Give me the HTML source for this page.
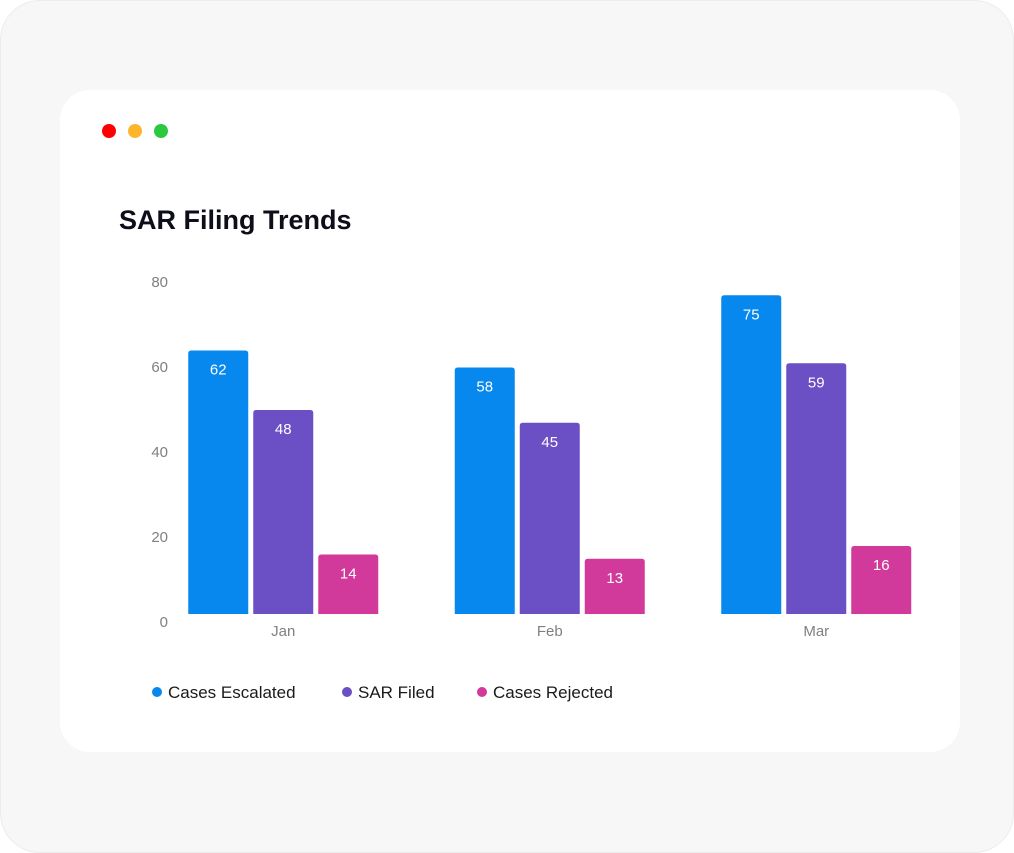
<!DOCTYPE html>
<html><head><meta charset="utf-8">
<style>
html,body{margin:0;padding:0;width:1014px;height:853px;background:#fff;overflow:hidden;font-family:"Liberation Sans",sans-serif;}
#outer{position:absolute;left:0;top:0;width:1012px;height:851px;background:#f7f7f7;border:1px solid #ececec;border-radius:40px;}
#card{position:absolute;left:60px;top:90px;width:900px;height:662px;background:#fff;border-radius:30px;}
</style></head><body>
<div id="outer"></div>
<div id="card"></div>
<svg id="chart" width="1014" height="853" style="position:absolute;left:0;top:0">
<circle cx="109" cy="131" r="7" fill="#fe0000"/>
<circle cx="135" cy="131" r="7" fill="#fdb62c"/>
<circle cx="161" cy="131" r="7" fill="#2bc840"/>
<text x="119" y="229" font-size="27" font-weight="bold" fill="#0e0e1a">SAR Filing Trends</text>
<g id="axis"></g><g id="bars"></g><g id="legend"></g>
</svg>
<script>
const categories=["Jan","Feb","Mar"];
const seriesNames=["Cases Escalated","SAR Filed","Cases Rejected"];
const escalated=[62,58,75];
const sarFiled=[48,45,59];
const rejected=[14,13,16];
const yTicks=[0,20,40,60,80];
const colors=["#0788ee","#6a4fc5","#d13a9a"];
const NS="http://www.w3.org/2000/svg";
const y0=614,pxPer=4.25;
function y(v){return y0-v*pxPer;}
const plotL=150,band=266.5;
function xc(i){return plotL+band*(i+0.5);}
function mk(tag,attrs,parent){const e=document.createElementNS(NS,tag);for(const k in attrs)e.setAttribute(k,attrs[k]);parent.appendChild(e);return e;}
const ax=document.getElementById('axis'),bg=document.getElementById('bars'),lg=document.getElementById('legend');
yTicks.forEach(t=>{const e=mk('text',{x:168,y:y(t)+13,'text-anchor':'end','font-size':15,fill:'#808080'},ax);e.textContent=t;

});
categories.forEach((c,i)=>{const e=mk('text',{x:xc(i),y:636,'text-anchor':'middle','font-size':15,fill:'#808080'},ax);e.textContent=c;

});
const series=[escalated,sarFiled,rejected];
const bw=60,gap=5;
series.forEach((s,si)=>{s.forEach((v,i)=>{
const x=xc(i)-(3*bw+2*gap)/2+si*(bw+gap);
const top=y(v),h=y0-top;
const p=mk('path',{d:`M${x},${y0}V${top+3}Q${x},${top} ${x+3},${top}H${x+bw-3}Q${x+bw},${top} ${x+bw},${top+3}V${y0}Z`,fill:colors[si]},bg);


const t=mk('text',{x:x+bw/2,y:top+24,'text-anchor':'middle','font-size':15,fill:'#fff'},bg);t.textContent=v;


});});
const lx=[157,347,482];
seriesNames.forEach((n,i)=>{
const g=mk('g',{},lg);


mk('circle',{cx:lx[i],cy:692,r:5,fill:colors[i]},g);
const t=mk('text',{x:lx[i]+11,y:698,'font-size':17,fill:'#1a1a1a'},g);t.textContent=n;});
</script>
</body></html>
